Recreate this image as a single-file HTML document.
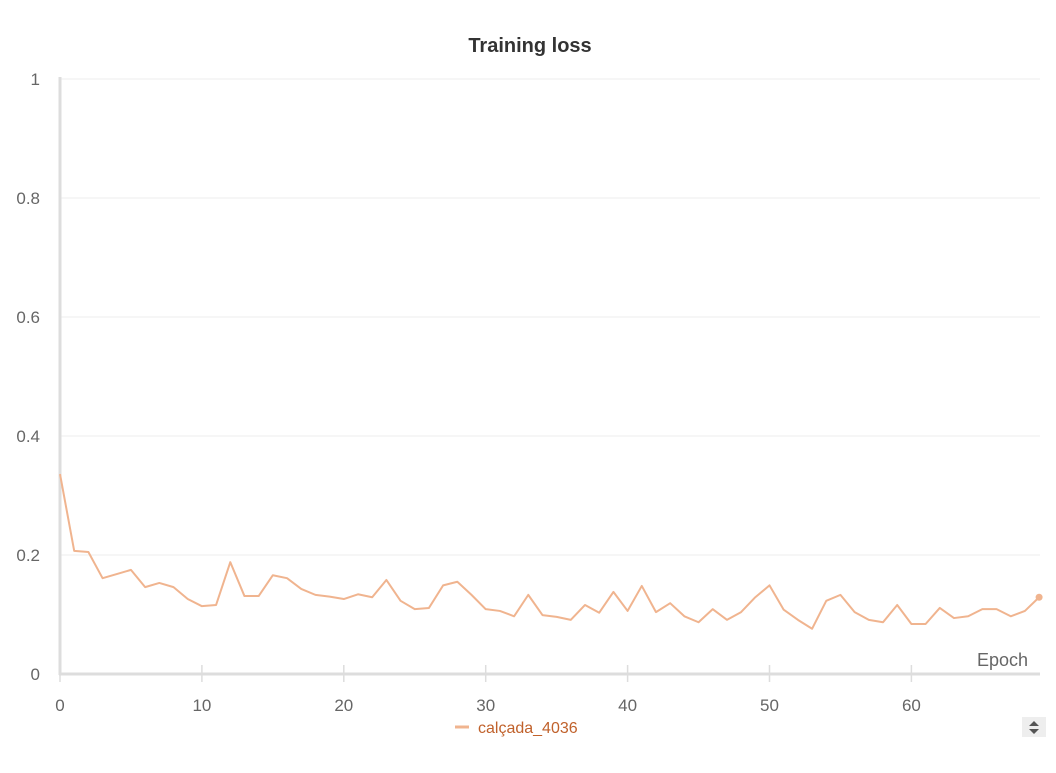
<!DOCTYPE html>
<html><head><meta charset="utf-8"><style>
body{margin:0;background:#fff;width:1056px;height:768px;overflow:hidden;font-family:"Liberation Sans",sans-serif}
</style></head><body>
<svg id="chart" width="1056" height="768">
<text x="530" y="52" text-anchor="middle" font-size="20" font-weight="bold" fill="#333">Training loss</text>
<g id="grid"></g><g id="axes"></g><g id="series"></g>
<text x="1028" y="666" text-anchor="end" font-size="18" fill="#666">Epoch</text>
<g>
<line x1="455" y1="727" x2="469" y2="727" stroke="#f0b48f" stroke-width="3"/>
<text x="478" y="733" font-size="16" fill="#c0612b">calçada_4036</text>
</g>
<g>
<rect x="1022" y="717" width="24" height="20" fill="#eee"/>
<path d="M1029 726 l5 -5 l5 5z M1029 729 l5 5 l5 -5z" fill="#555"/>
</g>
</svg>
<script>
const epochs = Array.from({length:70},(_, i)=>i);
const loss = [0.336,0.207,0.205,0.161,0.168,0.175,0.146,0.153,0.146,0.126,0.114,0.116,0.188,0.131,0.131,0.166,0.161,0.143,0.133,0.13,0.126,0.134,0.129,0.158,0.123,0.109,0.111,0.149,0.155,0.133,0.109,0.106,0.097,0.133,0.099,0.096,0.091,0.116,0.103,0.138,0.106,0.148,0.104,0.119,0.097,0.087,0.109,0.091,0.104,0.129,0.149,0.108,0.091,0.076,0.123,0.133,0.104,0.091,0.087,0.116,0.084,0.084,0.111,0.094,0.097,0.109,0.109,0.097,0.106,0.129];
const yTicks = [0,0.2,0.4,0.6,0.8,1];
const yTickLabels = ["0","0.2","0.4","0.6","0.8","1"];
const xTicks = [0,10,20,30,40,50,60];
const NS="http://www.w3.org/2000/svg";
const X = v => 60 + v*14.19;
const Y = v => 674 - v*595;
function mk(tag, attrs, parent){const e=document.createElementNS(NS,tag);for(const k in attrs)e.setAttribute(k,attrs[k]);parent.appendChild(e);return e;}
const grid=document.getElementById('grid'), axes=document.getElementById('axes'), series=document.getElementById('series');
yTicks.forEach((t,i)=>{
  const l=mk('line',{x1:60,x2:1040,y1:Y(t),y2:Y(t),stroke:'#eee','stroke-width':1},grid);
  
  
  const tx=mk('text',{x:40,y:Y(t)+6,'text-anchor':'end','font-size':17,fill:'#666'},axes);
  tx.textContent=yTickLabels[i];
  
  
});
const ya=mk('line',{x1:60,x2:60,y1:77,y2:675,stroke:'#ddd','stroke-width':3},axes);


const xa=mk('line',{x1:59,x2:1040,y1:674,y2:674,stroke:'#ddd','stroke-width':3},axes);


xTicks.forEach(t=>{
  const tk=mk('line',{x1:X(t),x2:X(t),y1:665,y2:682,stroke:'#ddd','stroke-width':1.5},axes);
  
  
  const tx=mk('text',{x:X(t),y:711,'text-anchor':'middle','font-size':17,fill:'#666'},axes);
  tx.textContent=t;
  
  
});
const pts=epochs.map((e,i)=>X(e)+','+Y(loss[i])).join(' ');
const pl=mk('polyline',{points:pts,fill:'none',stroke:'#f0b48f','stroke-width':2,'stroke-linejoin':'round'},series);


const last=epochs.length-1;
const dot=mk('circle',{cx:X(epochs[last]),cy:Y(loss[last]),r:3.5,fill:'#f0b48f'},series);


</script>
</body></html>
